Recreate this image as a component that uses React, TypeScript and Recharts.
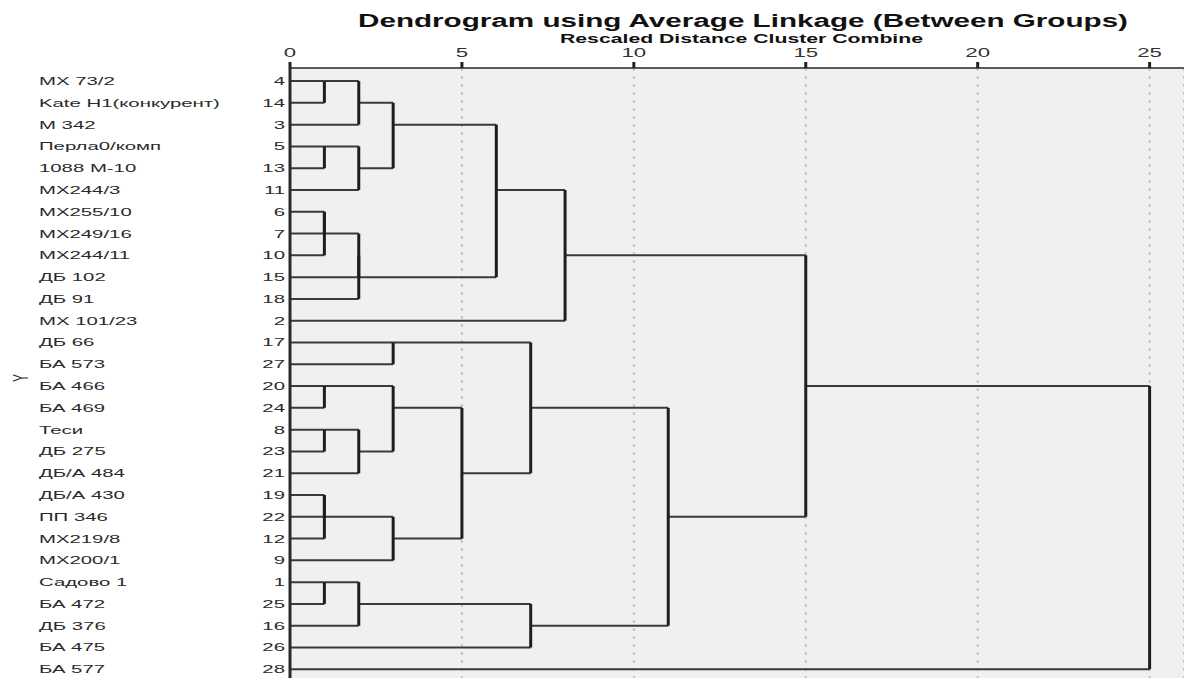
import React from 'react';
import { ComposedChart, XAxis, YAxis, CartesianGrid, ReferenceLine, Scatter } from 'recharts';

// case numbers and names in dendrogram order (top to bottom)
const leafIds = [4, 14, 3, 5, 13, 11, 6, 7, 10, 15, 18, 2, 17, 27, 20, 24, 8, 23, 21, 19, 22, 12, 9, 1, 25, 16, 26, 28];
const leafNames = [
  'МХ 73/2', 'Kate H1(конкурент)', 'М 342', 'Перла0/комп', '1088 М-10', 'МХ244/3', 'МХ255/10',
  'МХ249/16', 'МХ244/11', 'ДБ 102', 'ДБ 91', 'МХ 101/23', 'ДБ 66', 'БА 573', 'БА 466', 'БА 469',
  'Теси', 'ДБ 275', 'ДБ/А 484', 'ДБ/А 430', 'ПП 346', 'МХ219/8', 'МХ200/1', 'Садово 1', 'БА 472',
  'ДБ 376', 'БА 475', 'БА 577',
];

// agglomeration steps: [cluster, cluster joined, rescaled distance]
// a cluster is named by its top case
const merges: [number, number, number][] = [
  [4, 14, 1], [5, 13, 1], [6, 7, 1], [6, 10, 1], [20, 24, 1], [8, 23, 1], [19, 22, 1], [19, 12, 1], [1, 25, 1],
  [4, 3, 2], [5, 11, 2], [6, 15, 2], [6, 18, 2], [8, 21, 2], [1, 16, 2],
  [4, 5, 3], [17, 27, 3], [20, 8, 3], [19, 9, 3],
  [20, 19, 5], [4, 6, 6], [17, 20, 7], [1, 26, 7], [4, 2, 8], [17, 1, 11], [4, 17, 15], [4, 28, 25],
];

const distanceTicks = [0, 5, 10, 15, 20, 25];

const TITLE = 'Dendrogram using Average Linkage (Between Groups)';
const SUBTITLE = 'Rescaled Distance Cluster Combine';

const FONT = '"Liberation Sans", Arial, sans-serif';
const STRETCH = 1.85;

type HSeg = { x1: number; x2: number; y: number };
type VSeg = { x: number; y1: number; y2: number };

// walk the merges the way SPSS draws them: the joined cluster sits on the
// middle row (rounded down) of its two parts
const buildSegments = () => {
  const state = new Map<number, { row: number; h: number }>();
  leafIds.forEach((id, i) => state.set(id, { row: i, h: 0 }));
  const hs: HSeg[] = [];
  const vs: VSeg[] = [];
  merges.forEach(([a, b, h]) => {
    const A = state.get(a)!;
    const B = state.get(b)!;
    [A, B].forEach((c) => {
      if (h > c.h) hs.push({ x1: c.h, x2: h, y: c.row });
    });
    vs.push({ x: h, y1: Math.min(A.row, B.row), y2: Math.max(A.row, B.row) });
    state.set(a, { row: Math.floor((A.row + B.row) / 2), h });
  });
  return { hs, vs };
};

const { hs, vs } = buildSegments();
const leafPoints = leafIds.map((id, i) => ({ x: 0, row: i, id }));
const rowTicks = leafIds.map((_, i) => i);

const renderLeafTick = (props: any) => {
  const { x, y, payload } = props;
  const i = payload.value as number;
  return (
    <g>
      <text
        transform={`translate(39,${y}) scale(${STRETCH},1)`}
        dy="0.36em"
        textAnchor="start"
        fontSize={11}
        fill="#2a2a2a"
        fontFamily={FONT}
      >
        {leafNames[i]}
      </text>
      <text
        transform={`translate(${x},${y}) scale(${STRETCH},1)`}
        dy="0.36em"
        textAnchor="end"
        fontSize={11}
        fill="#2a2a2a"
        fontFamily={FONT}
      >
        {leafIds[i]}
      </text>
    </g>
  );
};

const renderDistanceTick = (props: any) => {
  const { x, y, payload } = props;
  return (
    <text
      transform={`translate(${x},${y - 1}) scale(${STRETCH},1)`}
      textAnchor="middle"
      fontSize={12}
      fill="#333"
      fontFamily={FONT}
    >
      {payload.value}
    </text>
  );
};

const Titles = () => (
  <g>
    <text x={358} y={27} fontSize={18} fontWeight="bold" fill="#111" fontFamily={FONT}
      textLength={770} lengthAdjust="spacingAndGlyphs">
      {TITLE}
    </text>
    <text x={560} y={43} fontSize={13} fontWeight="bold" fill="#111" fontFamily={FONT}
      textLength={363} lengthAdjust="spacingAndGlyphs">
      {SUBTITLE}
    </text>
  </g>
);

const YLabel = () => (
  <text
    transform={`translate(20,378) scale(${STRETCH},1) rotate(-90)`}
    textAnchor="middle"
    dy="0.36em"
    fontSize={12}
    fill="#333"
    fontFamily={FONT}
  >
    Y
  </text>
);

export default function App() {
  return (
    <div style={{ position: 'absolute', left: 0, top: 0, width: 1184, height: 678, background: '#fff' }}>
      <ComposedChart
        width={1184}
        height={678}
        data={leafPoints}
        margin={{ top: 38, right: 0, bottom: 0, left: 0 }}
        style={{ fontFamily: FONT }}
      >
        <CartesianGrid
          horizontal={false}
          fill="#f0f0f0"
          stroke="#c4c4c4"
          strokeWidth={2}
          strokeDasharray="3 5"
        />
        <XAxis
          dataKey="x"
          type="number"
          orientation="top"
          height={30}
          domain={[0, 26]}
          ticks={distanceTicks}
          allowDataOverflow
          axisLine={{ stroke: '#5a5a5a', strokeWidth: 2 }}
          tickLine={{ stroke: '#222', strokeWidth: 3 }}
          tickSize={6}
          tickMargin={4}
          tick={renderDistanceTick}
          label={<Titles />}
        />
        <YAxis
          dataKey="row"
          type="number"
          domain={[-0.6, 27.4]}
          reversed
          allowDataOverflow
          ticks={rowTicks}
          interval={0}
          width={290}
          axisLine={{ stroke: '#2a2a2a', strokeWidth: 3 }}
          tickLine={false}
          tickSize={0}
          tickMargin={5}
          tick={renderLeafTick}
          label={<YLabel />}
        />
        <Scatter dataKey="row" isAnimationActive={false} shape={() => <g />} />
        {hs.map((s, i) => (
          <ReferenceLine
            key={`h${i}`}
            segment={[{ x: s.x1, y: s.y }, { x: s.x2, y: s.y }]}
            stroke="#3a3a3a"
            strokeWidth={2}
            ifOverflow="visible"
          />
        ))}
        {vs.map((s, i) => (
          <ReferenceLine
            key={`v${i}`}
            segment={[{ x: s.x, y: s.y1 }, { x: s.x, y: s.y2 }]}
            stroke="#1e1e1e"
            strokeWidth={3}
            ifOverflow="visible"
          />
        ))}
      </ComposedChart>
    </div>
  );
}
